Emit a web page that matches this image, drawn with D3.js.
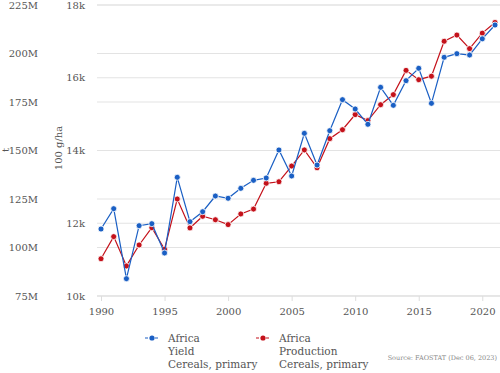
<!DOCTYPE html>
<html>
<head>
<meta charset="utf-8">
<script src="https://cdn.jsdelivr.net/npm/d3@7"></script>
<style>
  body { margin: 0; background: #fff; }
</style>
</head>
<body>
<script>
// Years and series
var years = d3.range(1990, 2022);
var yieldVals = [11842, 12400, 10476, 11933, 11988, 11182, 13263, 12043, 12317, 12749,
                 12686, 12960, 13180, 13244, 14014, 13299, 14472, 13601, 14545, 15397,
                 15141, 14720, 15737, 15242, 15920, 16260, 15297, 16562, 16662, 16625,
                 17070, 17450];
var prodVals = [94.2, 105.6, 90.5, 101.3, 110.2, 99.1, 125.0, 110.1, 116.1, 114.3,
                111.8, 117.3, 119.8, 133.1, 133.9, 142.0, 150.3, 141.1, 156.1, 160.7,
                168.5, 165.4, 173.6, 178.8, 191.3, 186.5, 188.3, 206.3, 209.5, 202.5,
                210.5, 216.0].map(d => d * 1e6);
var tTicks = [75e6, 100e6, 125e6, 150e6, 175e6, 200e6, 225e6];
var yTicks = [10000, 12000, 14000, 16000, 18000];
var xTicks = [1990, 1995, 2000, 2005, 2010, 2015, 2020];

var W = 500, H = 373;
var blue = "#1a5fc4", red = "#c4111a";
var font = "'DejaVu Serif', serif";

var svg = d3.select("body").append("svg")
            .attr("width", W).attr("height", H)
            .attr("font-family", font);

var x = d3.scaleLinear().domain([1990, 2021]).range([101, 495]);
var yT = d3.scaleLinear().domain([75e6, 225e6]).range([296, 5]);
var yY = d3.scaleLinear().domain([10000, 18000]).range([296, 5]);

// gridlines for both axes
var grid = svg.append("g");
tTicks.forEach(function(v) {
  grid.append("line").attr("x1", 97).attr("x2", 500)
      .attr("y1", yT(v)).attr("y2", yT(v))
      .attr("stroke", "#e3e3e3").attr("stroke-width", 1);
});
yTicks.forEach(function(v) {
  grid.append("line").attr("x1", 97).attr("x2", 500)
      .attr("y1", yY(v)).attr("y2", yY(v))
      .attr("stroke", "#e3e3e3").attr("stroke-width", 1);
});

// left axis (t)
var axT = d3.axisLeft(yT).tickValues(tTicks).tickSize(0).tickPadding(0)
            .tickFormat(d => (d / 1e6) + "M");
svg.append("g").attr("transform", "translate(38,0)").call(axT)
   .attr("font-family", font).attr("font-size", 10)
   .call(g => g.select(".domain").remove())
   .selectAll("text").attr("fill", "#555");

// second axis (100 g/ha)
var axY = d3.axisLeft(yY).tickValues(yTicks).tickSize(0).tickPadding(0)
            .tickFormat(d => (d / 1000) + "k");
svg.append("g").attr("transform", "translate(85,0)").call(axY)
   .attr("font-family", font).attr("font-size", 10)
   .call(g => g.select(".domain").remove())
   .selectAll("text").attr("fill", "#555");

svg.append("text").attr("transform", "translate(9,150) rotate(-90)")
   .attr("text-anchor", "middle").attr("font-size", 10).attr("fill", "#555").text("t");
svg.append("text").attr("transform", "translate(62,148) rotate(-90)")
   .attr("text-anchor", "middle").attr("font-size", 10).attr("fill", "#555").text("100 g/ha");

// x axis
var axX = d3.axisBottom(x).tickValues(xTicks).tickSize(5).tickPadding(7)
            .tickFormat(d3.format("d"));
svg.append("g").attr("transform", "translate(0,296)").call(axX)
   .attr("font-family", font).attr("font-size", 10)
   .call(g => g.select(".domain").attr("d", "M97,0H500").attr("stroke", "#e3e3e3"))
   .call(g => g.selectAll(".tick line").attr("stroke", "#ddd"))
   .selectAll("text").attr("fill", "#555");

// lines
function drawSeries(vals, yScale, color) {
  var pts = years.map((yr, i) => [yr, vals[i]]);
  svg.append("path").datum(pts)
     .attr("fill", "none").attr("stroke", color).attr("stroke-width", 1.2)
     .attr("d", d3.line().x(d => x(d[0])).y(d => yScale(d[1])));
  svg.append("g").selectAll("circle").data(pts).enter().append("circle")
     .attr("cx", d => x(d[0])).attr("cy", d => yScale(d[1])).attr("r", 3)
     .attr("fill", color).attr("stroke", "#fff").attr("stroke-width", 0.8);
}
drawSeries(prodVals, yT, red);
drawSeries(yieldVals, yY, blue);

// legend
var legend = [
  {color: blue, lines: ["Africa", "Yield", "Cereals, primary"], x: 145},
  {color: red, lines: ["Africa", "Production", "Cereals, primary"], x: 256}
];
legend.forEach(function(l) {
  var g = svg.append("g");
  g.append("line").attr("x1", l.x).attr("x2", l.x + 14).attr("y1", 338).attr("y2", 338)
   .attr("stroke", l.color).attr("stroke-width", 1.2).attr("stroke-dasharray", "3,2");
  g.append("circle").attr("cx", l.x + 7).attr("cy", 338).attr("r", 2.6).attr("fill", l.color);
  l.lines.forEach(function(t, i) {
    g.append("text").attr("x", l.x + 23).attr("y", 342 + i * 13)
     .attr("font-size", 10.5).attr("fill", "#555").text(t);
  });
});

svg.append("text").attr("x", 497).attr("y", 360).attr("text-anchor", "end")
   .attr("font-size", 6.5).attr("fill", "#888").text("Source: FAOSTAT (Dec 06, 2023)");
</script>
</body>
</html>
